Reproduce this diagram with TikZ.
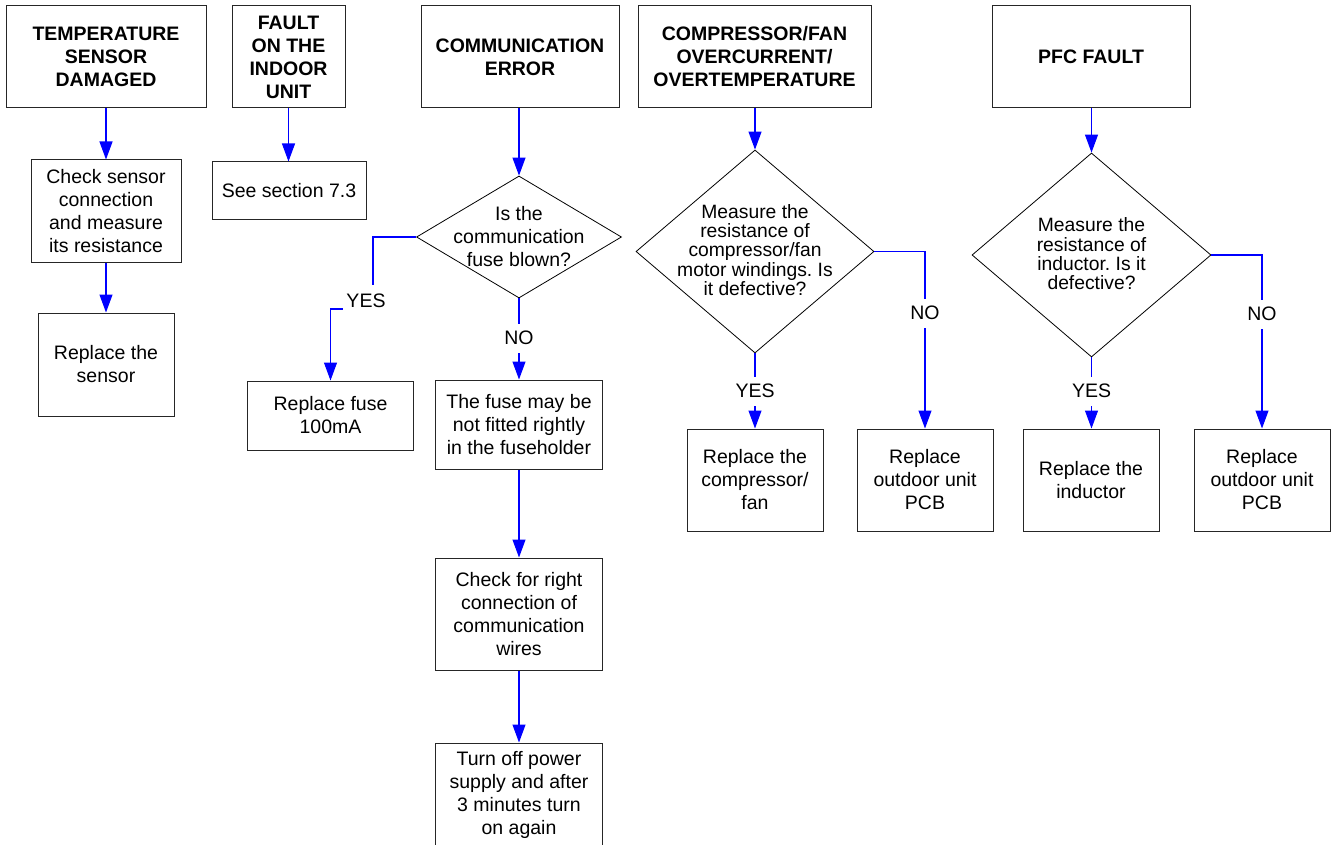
\documentclass[tikz,border=0pt]{standalone}
\usepackage{fontspec}
\setmainfont{Liberation Sans}
\usetikzlibrary{arrows.meta,shapes.geometric}
\frenchspacing
\begin{document}
\begin{tikzpicture}[x=1pt,y=-1pt,
  box/.style={draw=black!85,line width=1pt,rectangle,inner sep=0pt,align=center,
    font=\fontsize{19.5}{23}\selectfont},
  head/.style={box,font=\fontsize{19.5}{23}\selectfont\bfseries},
  dec/.style={draw=black,line width=0.8pt,diamond,inner sep=0pt},
  dectext/.style={align=center,inner sep=0pt,font=\fontsize{19.5}{23}\selectfont},
  conn/.style={draw={rgb,255:red,0;green,0;blue,255},line width=1.1pt,
    -{Triangle[length=18pt,width=13pt]}},
  lbl/.style={fill=white,inner sep=0pt,minimum height=29pt,minimum width=40pt,
    font=\fontsize{19.5}{23}\selectfont}
]
\useasboundingbox (0,0) rectangle (1338,845);
\fill[white] (0,0) rectangle (1338,845);

% headers
\node[head,minimum width=200pt,minimum height=102pt] (t1) at (106,57) {TEMPERATURE\\SENSOR\\DAMAGED};
\node[head,minimum width=113pt,minimum height=102pt] (t2) at (288.5,57) {FAULT\\ON THE\\INDOOR\\UNIT};
\node[head,minimum width=198pt,minimum height=102pt] (t3) at (520,57) {COMMUNICATION\\ERROR};
\node[head,minimum width=233pt,minimum height=102pt] (t4) at (754.5,57) {COMPRESSOR/FAN\\OVERCURRENT/\\OVERTEMPERATURE};
\node[head,minimum width=198pt,minimum height=102pt] (t5) at (1091,57) {PFC FAULT};

% column 1
\node[box,minimum width=150pt,minimum height=102pt] (c1a) at (106,211) {Check sensor\\connection\\and measure\\its resistance};
\node[box,minimum width=136pt,minimum height=103pt] (c1b) at (106,364.5) {Replace the\\sensor};
\draw[conn] (t1.south) -- (c1a.north);
\draw[conn] (c1a.south) -- (c1b.north);

% column 2
\node[box,minimum width=154pt,minimum height=57pt] (c2a) at (289,190.5) {See section 7.3};
\draw[conn] (t2.south) -- (t2.south |- c2a.north);

% column 3
\node[dec,minimum width=205pt,minimum height=122pt] (d3) at (519,237) {};
\node[dectext] (d3t) at (d3) {Is the\\communication\\fuse blown?};
\node[box,minimum width=166pt,minimum height=69pt] (f1) at (330.5,415.5) {Replace fuse\\100mA};
\node[box,minimum width=167pt,minimum height=89pt] (f2) at (519,424.5) {The fuse may be\\not fitted rightly\\in the fuseholder};
\node[box,minimum width=167pt,minimum height=112pt] (f3) at (519,614) {Check for right\\connection of\\communication\\wires};
\node[box,minimum width=167pt,minimum height=104pt] (f4) at (519,795) {Turn off power\\supply and after\\3 minutes turn\\on again};
\draw[conn] (t3.south -| d3.north) -- (d3.north);
\coordinate (yb) at (373,309);
\draw[conn] (d3.west) -| (yb) -| (f1.north);
\node[lbl,minimum width=46pt,minimum height=32pt] (ly3) at (366,301) {YES};
\draw[conn] (d3.south) -- (f2.north);
\node[lbl] (ln3) at (519,338) {NO};
\draw[conn] (f2.south) -- (f3.north);
\draw[conn] (f3.south) -- (f4.north);

% column 4
\node[dec,minimum width=238pt,minimum height=203pt] (d4) at (755,251.5) {};
\node[dectext,font=\fontsize{19.3}{19.3}\selectfont] (d4t) at (755,250) {Measure the\\resistance of\\compressor/fan\\motor windings. Is\\it defective?};
\node[box,minimum width=136pt,minimum height=102pt] (g1) at (755,480) {Replace the\\compressor/\\fan};
\node[box,minimum width=136pt,minimum height=102pt] (g2) at (925,480) {Replace\\outdoor unit\\PCB};
\draw[conn] (t4.south -| d4.north) -- (d4.north);
\draw[conn] (d4.south) -- (g1.north);
\node[lbl] (ly4) at (755,391) {YES};
\draw[conn] (d4.east) -| (g2.north);
\node[lbl] (ln4) at (925,313) {NO};

% column 5
\node[dec,minimum width=239pt,minimum height=204pt] (d5) at (1091.5,255) {};
\node[dectext,font=\fontsize{19.3}{19.3}\selectfont] (d5t) at (1091.5,254) {Measure the\\resistance of\\inductor. Is it\\defective?};
\node[box,minimum width=136pt,minimum height=102pt] (h1) at (1091,480) {Replace the\\inductor};
\node[box,minimum width=136pt,minimum height=102pt] (h2) at (1262,480) {Replace\\outdoor unit\\PCB};
\draw[conn] (t5.south -| d5.north) -- (d5.north);
\draw[conn] (d5.south) -- (d5.south |- h1.north);
\node[lbl] (ly5) at (1091.5,391) {YES};
\draw[conn] (d5.east) -| (h2.north);
\node[lbl] (ln5) at (1262,314) {NO};
\end{tikzpicture}
\end{document}
